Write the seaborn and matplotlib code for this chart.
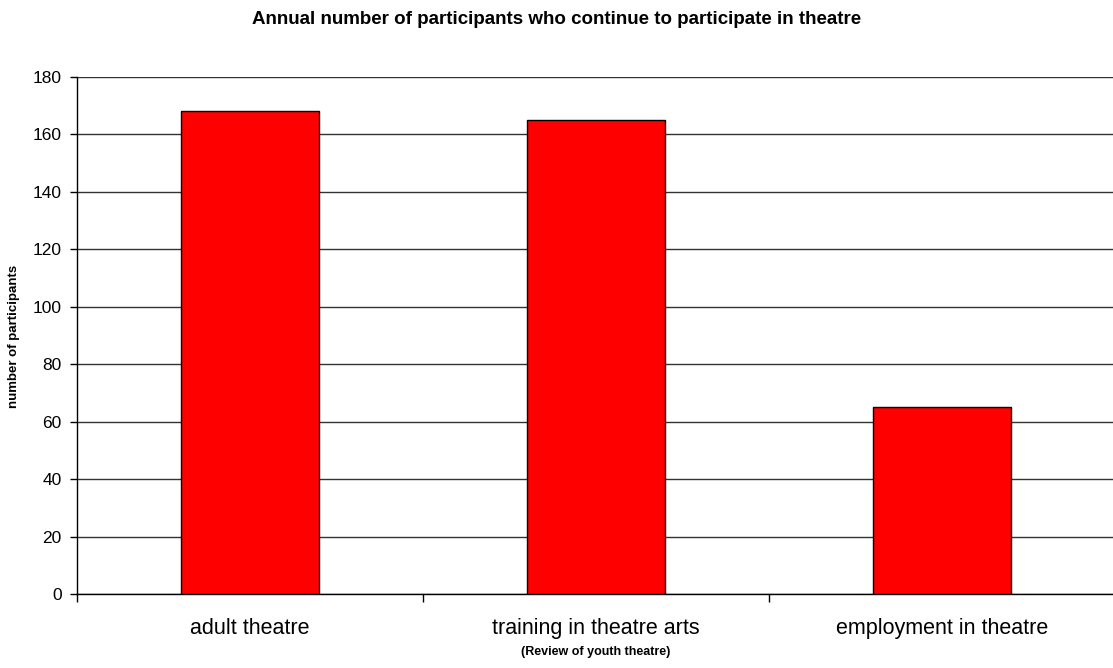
import matplotlib
matplotlib.use("Agg")
import matplotlib.pyplot as plt
import seaborn as sns
import pandas as pd

categories = ["adult theatre", "training in theatre arts", "employment in theatre"]
participants = [168, 165, 65]

df = pd.DataFrame({"category": categories, "participants": participants})

sns.set_style("white", {"xtick.bottom": True, "ytick.left": True,
                        "text.color": "black", "axes.labelcolor": "black",
                        "xtick.color": "black", "ytick.color": "black"})
plt.rcParams["font.family"] = ["Liberation Sans", "DejaVu Sans"]

W, H = 1113, 668
fig = plt.figure(figsize=(W / 100, H / 100), dpi=100)
ax = fig.add_axes([77 / W, 1 - 594 / H, (1115 - 77) / W, (594 - 77) / H])

sns.barplot(data=df, x="category", y="participants", color="#ff0000",
            width=0.4, edgecolor="black", linewidth=1.0, saturation=1,
            ax=ax, zorder=3)

ax.set_ylim(0, 180)
ax.set_xlim(-0.5, 2.5)
ax.set_yticks(range(0, 181, 20))
ax.yaxis.grid(True, color="#333333", linewidth=1.0, zorder=0)
ax.xaxis.grid(False)

for s in ["top", "right"]:
    ax.spines[s].set_visible(False)
for s in ["left", "bottom"]:
    ax.spines[s].set_color("black")
    ax.spines[s].set_linewidth(1.0)

# category boundary ticks on x, labels centred under bars
ax.set_xticks([-0.5, 0.5, 1.5, 2.5])
ax.set_xticklabels([])
ax.set_xticks([0, 1, 2], minor=True)
ax.set_xticklabels(categories, minor=True, fontsize=15.5)
ax.tick_params(axis="x", which="major", direction="out", length=6, width=1,
               color="black", bottom=True)
ax.tick_params(axis="x", which="minor", length=0, pad=17, bottom=True)
ax.tick_params(axis="y", direction="out", length=5, width=1, color="black",
               labelsize=12.5, pad=6, left=True)

ax.set_xlabel("")
ax.set_ylabel("")

fig.text(0.5, 1 - 20 / H, "Annual number of participants who continue to participate in theatre",
         ha="center", va="center", fontsize=13.5, fontweight="bold")
fig.text(596 / W, 1 - 652 / H, "(Review of youth theatre)",
         ha="center", va="center", fontsize=9, fontweight="bold")
fig.text(14 / W, 1 - 336 / H, "number of participants", rotation=90,
         ha="center", va="center", fontsize=9.5, fontweight="bold")

fig.savefig("out.png", dpi=100)
